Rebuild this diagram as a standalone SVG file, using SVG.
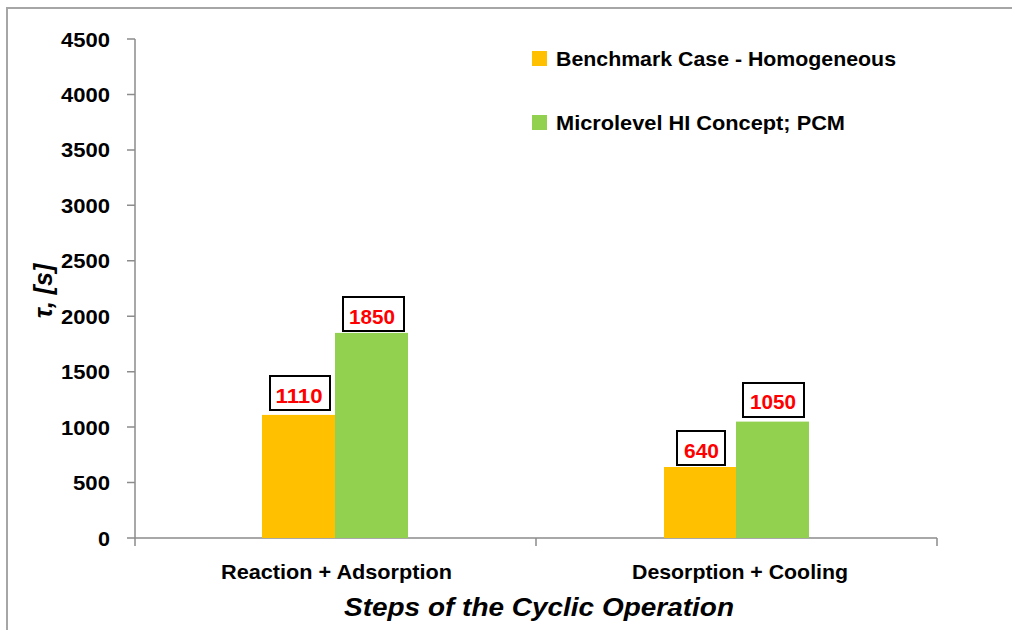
<svg xmlns="http://www.w3.org/2000/svg" width="1012" height="630" viewBox="0 0 1012 630">
  <style>
    .frame { fill: none; stroke: #a6a6a6; stroke-width: 2; }
    .axis { fill: none; stroke: #8c8c8c; stroke-width: 1.5; }
    text { font-family: "Liberation Sans", Arial, sans-serif; font-weight: bold; fill: #000; }
    .tick { font-size: 21px; text-anchor: end; }
    .cat { font-size: 20.5px; text-anchor: middle; }
    .leg { font-size: 20.5px; }
    .title { font-style: italic; font-size: 25px; text-anchor: middle; }
    .val { font-size: 21px; fill: #ff0000; text-anchor: middle; }
    .vbox { fill: #fff; stroke: #000; stroke-width: 2; }
    .orange { fill: #ffc000; }
    .green { fill: #92d050; }
  </style>

  <rect width="1012" height="630" fill="#fff"/>
  <!-- chart area border -->
  <path class="frame" d="M7,640 L7,8 L1020,8"/>

  <!-- axes and tick marks -->
  <g id="axes">
    <path class="axis" d="M135,39 L135,538 L937,538"/>
    <path class="axis" d="M127,39 H135 M127,94.4 H135 M127,149.9 H135 M127,205.3 H135 M127,260.8 H135 M127,316.2 H135 M127,371.7 H135 M127,427.1 H135 M127,482.6 H135 M127,538 H135"/>
    <path class="axis" d="M135,538 V546 M536,538 V546 M937,538 V546"/>
  </g>

  <!-- y tick labels -->
  <g id="y-labels">
    <text class="tick" x="110" y="46.5" textLength="49" lengthAdjust="spacingAndGlyphs">4500</text>
    <text class="tick" x="110" y="101.9" textLength="49" lengthAdjust="spacingAndGlyphs">4000</text>
    <text class="tick" x="110" y="157.4" textLength="49" lengthAdjust="spacingAndGlyphs">3500</text>
    <text class="tick" x="110" y="212.8" textLength="49" lengthAdjust="spacingAndGlyphs">3000</text>
    <text class="tick" x="110" y="268.3" textLength="49" lengthAdjust="spacingAndGlyphs">2500</text>
    <text class="tick" x="110" y="323.7" textLength="49" lengthAdjust="spacingAndGlyphs">2000</text>
    <text class="tick" x="110" y="379.2" textLength="49" lengthAdjust="spacingAndGlyphs">1500</text>
    <text class="tick" x="110" y="434.6" textLength="49" lengthAdjust="spacingAndGlyphs">1000</text>
    <text class="tick" x="110" y="490.1" textLength="37" lengthAdjust="spacingAndGlyphs">500</text>
    <text class="tick" x="110" y="545.5" textLength="12" lengthAdjust="spacingAndGlyphs">0</text>
  </g>

  <!-- bars -->
  <g id="bar-reaction-benchmark"><rect class="orange" x="262" y="414.9" width="73" height="123.1"/></g>
  <g id="bar-reaction-pcm"><rect class="green" x="335" y="332.9" width="73" height="205.1"/></g>
  <g id="bar-desorption-benchmark"><rect class="orange" x="664" y="467" width="72" height="71"/></g>
  <g id="bar-desorption-pcm"><rect class="green" x="736" y="421.6" width="73" height="116.4"/></g>

  <!-- value labels -->
  <g id="label-1110">
    <rect class="vbox" x="270" y="376" width="60" height="34"/>
    <text class="val" x="299" y="403" textLength="47" lengthAdjust="spacingAndGlyphs">1110</text>
  </g>
  <g id="label-1850">
    <rect class="vbox" x="343" y="297" width="61" height="34"/>
    <text class="val" x="372" y="324" textLength="46" lengthAdjust="spacingAndGlyphs">1850</text>
  </g>
  <g id="label-640">
    <rect class="vbox" x="677" y="431" width="48" height="34"/>
    <text class="val" x="701.5" y="458" textLength="35" lengthAdjust="spacingAndGlyphs">640</text>
  </g>
  <g id="label-1050">
    <rect class="vbox" x="743" y="383" width="61" height="34"/>
    <text class="val" x="773" y="409" textLength="46" lengthAdjust="spacingAndGlyphs">1050</text>
  </g>

  <!-- category labels -->
  <text class="cat" x="336.5" y="579" textLength="231" lengthAdjust="spacingAndGlyphs">Reaction + Adsorption</text>
  <text class="cat" x="740" y="579" textLength="216" lengthAdjust="spacingAndGlyphs">Desorption + Cooling</text>

  <!-- axis titles -->
  <text class="title" x="539" y="616" textLength="390" lengthAdjust="spacingAndGlyphs">Steps of the Cyclic Operation</text>
  <text class="title" transform="translate(52,291) rotate(-90)" font-size="27">τ, [s]</text>

  <!-- legend -->
  <g id="legend">
    <rect class="orange" x="532" y="51" width="15" height="15"/>
    <text class="leg" x="556" y="66" textLength="340" lengthAdjust="spacingAndGlyphs">Benchmark Case - Homogeneous</text>
    <rect class="green" x="532" y="115" width="15" height="15"/>
    <text class="leg" x="556" y="130" textLength="289" lengthAdjust="spacingAndGlyphs">Microlevel HI Concept; PCM</text>
  </g>
</svg>
